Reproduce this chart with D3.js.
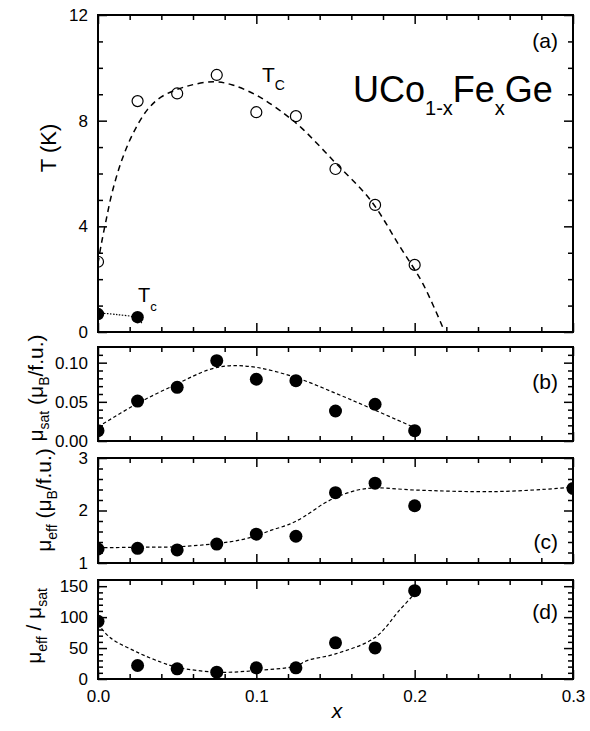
<!DOCTYPE html>
<html>
<head>
<meta charset="utf-8">
<script src="https://cdn.jsdelivr.net/npm/d3@7"></script>
<style>
  body { margin: 0; background: #fff; }
  svg { display: block; }
  text { font-family: "Liberation Sans", Arial, sans-serif; fill: #000; }
</style>
</head>
<body>
<svg id="chart" width="590" height="731"></svg>
<script>
// Fe concentration x of the measured samples
const composition = [0, 0.025, 0.05, 0.075, 0.1, 0.125, 0.15, 0.175, 0.2];

// (a) ordering temperatures
const tcOpen = [2.66, 8.74, 9.03, 9.73, 8.32, 8.17, 6.17, 4.81, 2.54];
const tcFilledX = [0, 0.025];
const tcFilled = [0.68, 0.56];
// guide curves through the Tc data
const tcFitX = [0, 0.002, 0.005, 0.009, 0.015, 0.022, 0.031, 0.04, 0.056, 0.073, 0.085, 0.102, 0.119, 0.129, 0.15, 0.172, 0.191, 0.205, 0.219];
const tcFitY = [2.6, 3.3, 4.2, 5.3, 6.5, 7.5, 8.4, 8.9, 9.3, 9.47, 9.35, 8.9, 8.2, 7.7, 6.4, 5.0, 3.2, 1.85, 0];
const tcLowFitX = [0, 0.012, 0.025, 0.028];
const tcLowFitY = [0.72, 0.66, 0.52, 0.3];

// (b) saturated moment
const muSat = [0.0132, 0.051, 0.0685, 0.1025, 0.0788, 0.077, 0.0383, 0.0469, 0.0132];
const muSatFitX = [0, 0.025, 0.05, 0.07, 0.083, 0.1, 0.125, 0.15, 0.172, 0.2];
const muSatFitY = [0.018, 0.048, 0.073, 0.091, 0.096, 0.094, 0.081, 0.061, 0.042, 0.017];

// (c) effective moment
const muEffX = [0, 0.025, 0.05, 0.075, 0.1, 0.125, 0.15, 0.175, 0.2, 0.3];
const muEff = [1.267, 1.28, 1.25, 1.36, 1.55, 1.51, 2.34, 2.52, 2.09, 2.42];
const muEffFitX = [0, 0.025, 0.05, 0.075, 0.09, 0.1, 0.11, 0.121, 0.13, 0.142, 0.151, 0.164, 0.176, 0.2, 0.25, 0.29, 0.3];
const muEffFitY = [1.29, 1.3, 1.31, 1.37, 1.44, 1.52, 1.63, 1.74, 1.88, 2.12, 2.26, 2.39, 2.43, 2.39, 2.36, 2.42, 2.45];

// (d) ratio mu_eff / mu_sat
const ratio = [93.2, 21.8, 16.4, 11, 18, 18, 58.4, 50.3, 142.7];
const ratioFitX = [0, 0.0076, 0.025, 0.04, 0.05, 0.075, 0.1, 0.125, 0.132, 0.15, 0.175, 0.19, 0.2];
const ratioFitY = [89.5, 67, 43, 27, 19, 11, 13.7, 21, 29.8, 40.6, 67, 110, 138];

// tick values and labels
const xMajor = [0, 0.1, 0.2, 0.3];
const xMajorLabels = ["0.0", "0.1", "0.2", "0.3"];
const xMinor = [0.02, 0.04, 0.06, 0.08, 0.12, 0.14, 0.16, 0.18, 0.22, 0.24, 0.26, 0.28];
const tMajor = [0, 4, 8, 12];
const tMinor = [1, 2, 3, 5, 6, 7, 9, 10, 11];
const satMajor = [0, 0.05, 0.10];
const satLabels = ["0.00", "0.05", "0.10"];
const satMinor = [0.01, 0.02, 0.03, 0.04, 0.06, 0.07, 0.08, 0.09, 0.11];
const effMajor = [1, 2, 3];
const effMinor = [1.2, 1.4, 1.6, 1.8, 2.2, 2.4, 2.6, 2.8];
const ratioMajor = [0, 50, 100, 150];
const ratioMinor = [10, 20, 30, 40, 60, 70, 80, 90, 110, 120, 130, 140];

const svg = d3.select("#chart");
const left = 98, right = 573;
const x = d3.scaleLinear().domain([0, 0.3]).range([left, right]);
const MAJ = 9, MIN = 5;

function panel(id, top, bottom, domain, major, majorLabels, minor, showX) {
  const y = d3.scaleLinear().domain(domain).range([bottom, top]);
  const g = svg.append("g");
  g.append("clipPath").attr("id", "clip-" + id)
    .append("rect").attr("x", left).attr("y", top)
    .attr("width", right - left).attr("height", bottom - top);

  const style = sel => {
    sel.select(".domain").remove();
    sel.selectAll("line").attr("stroke", "#000").attr("stroke-width", 1.5);
    sel.selectAll("text").attr("font-size", 17)
      .attr("font-family", "Liberation Sans, Arial, sans-serif");
    sel.attr("font-family", null).attr("font-size", null);
  };

  // x ticks, bottom and top
  g.append("g").attr("transform", `translate(0,${bottom})`)
    .call(d3.axisBottom(x).tickValues(xMinor).tickSize(-MIN).tickFormat("")).call(style);
  g.append("g").attr("transform", `translate(0,${bottom})`)
    .call(d3.axisBottom(x).tickValues(xMajor).tickSize(-MAJ).tickPadding(11)
      .tickFormat((d, i) => showX ? xMajorLabels[i] : "")).call(style);
  g.append("g").attr("transform", `translate(0,${top})`)
    .call(d3.axisTop(x).tickValues(xMinor).tickSize(-MIN).tickFormat("")).call(style);
  g.append("g").attr("transform", `translate(0,${top})`)
    .call(d3.axisTop(x).tickValues(xMajor).tickSize(-MAJ).tickFormat("")).call(style);

  // y ticks, left and right
  g.append("g").attr("transform", `translate(${left},0)`)
    .call(d3.axisLeft(y).tickValues(minor).tickSize(-MIN).tickFormat("")).call(style);
  g.append("g").attr("transform", `translate(${left},0)`)
    .call(d3.axisLeft(y).tickValues(major).tickSize(-MAJ).tickPadding(10)
      .tickFormat((d, i) => majorLabels[i])).call(style);
  g.append("g").attr("transform", `translate(${right},0)`)
    .call(d3.axisRight(y).tickValues(minor).tickSize(-MIN).tickFormat("")).call(style);
  g.append("g").attr("transform", `translate(${right},0)`)
    .call(d3.axisRight(y).tickValues(major).tickSize(-MAJ).tickFormat("")).call(style);

  // frame
  g.append("rect").attr("x", left).attr("y", top)
    .attr("width", right - left).attr("height", bottom - top)
    .attr("fill", "none").attr("stroke", "#000").attr("stroke-width", 2);

  const plot = g.append("g").attr("clip-path", `url(#clip-${id})`);
  return { y, g, plot };
}

function fitLine(target, y, xs, ys, dash, width) {
  const line = d3.line().x(d => x(d[0])).y(d => y(d[1])).curve(d3.curveCatmullRom.alpha(0.5));
  target.append("path").datum(d3.zip(xs, ys)).attr("d", line)
    .attr("fill", "none").attr("stroke", "#000")
    .attr("stroke-width", width).attr("stroke-dasharray", dash);
}

function dots(target, y, xs, ys, r, open) {
  target.selectAll(null).data(d3.zip(xs, ys)).join("circle")
    .attr("cx", d => x(d[0])).attr("cy", d => y(d[1])).attr("r", r)
    .attr("fill", open ? "none" : "#000")
    .attr("stroke", "#000").attr("stroke-width", open ? 1.2 : 0);
}

function label(parts, tx, ty, size, rotate, anchor) {
  const t = svg.append("text")
    .attr("transform", `translate(${tx},${ty})` + (rotate ? " rotate(-90)" : ""))
    .attr("text-anchor", anchor || "start").attr("font-size", size);
  let shift = 0;
  parts.forEach(([s, sub, sz, italic]) => {
    const target = sub ? sub : 0;
    const ts = t.append("tspan").text(s).attr("dy", target - shift);
    if (sz) ts.attr("font-size", sz);
    if (italic) ts.attr("font-style", "italic");
    shift = target;
  });
  return t;
}

// (a)
const A = panel("a", 15, 332, [0, 12], tMajor, tMajor.map(String), tMinor, false);
fitLine(A.plot, A.y, tcFitX, tcFitY, "6,4.5", 1.5);
fitLine(A.plot, A.y, tcLowFitX, tcLowFitY, "1.5,1.5", 1.2);
dots(A.plot, A.y, composition, tcOpen, 5.5, true);
dots(A.plot, A.y, tcFilledX, tcFilled, 6.2, false);

// (b)
const B = panel("b", 347, 441, [0, 0.12], satMajor, satLabels, satMinor, false);
fitLine(B.plot, B.y, muSatFitX, muSatFitY, "3.5,2.5", 1.2);
dots(B.plot, B.y, composition, muSat, 6.5, false);

// (c)
const C = panel("c", 458, 563, [1, 3], effMajor, effMajor.map(String), effMinor, false);
fitLine(C.plot, C.y, muEffFitX, muEffFitY, "3.5,2.5", 1.2);
dots(C.plot, C.y, muEffX, muEff, 6.5, false);

// (d)
const D = panel("d", 580, 679, [0, 160], ratioMajor, ratioMajor.map(String), ratioMinor, true);
fitLine(D.plot, D.y, ratioFitX, ratioFitY, "3.5,2.5", 1.2);
dots(D.plot, D.y, composition, ratio, 6.5, false);

// panel tags
label([["(a)"]], 558, 48, 21, false, "end");
label([["(b)"]], 558, 389, 21, false, "end");
label([["(c)"]], 558, 549, 21, false, "end");
label([["(d)"]], 558, 619, 21, false, "end");

// compound name
label([["UCo"], ["1-x", 13, 20], ["Fe", 0, 36], ["x", 13, 20], ["Ge", 0, 36]], 353, 102, 36, false);

// Tc annotations
label([["T"], ["C", 8, 14]], 262, 82, 21, false);
label([["T"], ["c", 9, 13]], 138, 302, 20, false);

// axis titles
label([["T (K)"]], 56, 148, 22, true, "middle");
label([["μ"], ["sat", 6, 14], [" (μ", 0, 21], ["B", 6, 14], ["/f.u.)", 0, 21]], 43, 388, 21, true, "middle");
label([["μ"], ["eff", 6, 14], [" (μ", 0, 21], ["B", 6, 14], ["/f.u.)", 0, 21]], 51, 500, 21, true, "middle");
label([["μ"], ["eff", 6, 14], [" / μ", 0, 21], ["sat", 6, 14]], 41, 626, 21, true, "middle");
label([["x", 0, 21, true]], 337, 718, 21, false, "middle");
</script>
</body>
</html>
